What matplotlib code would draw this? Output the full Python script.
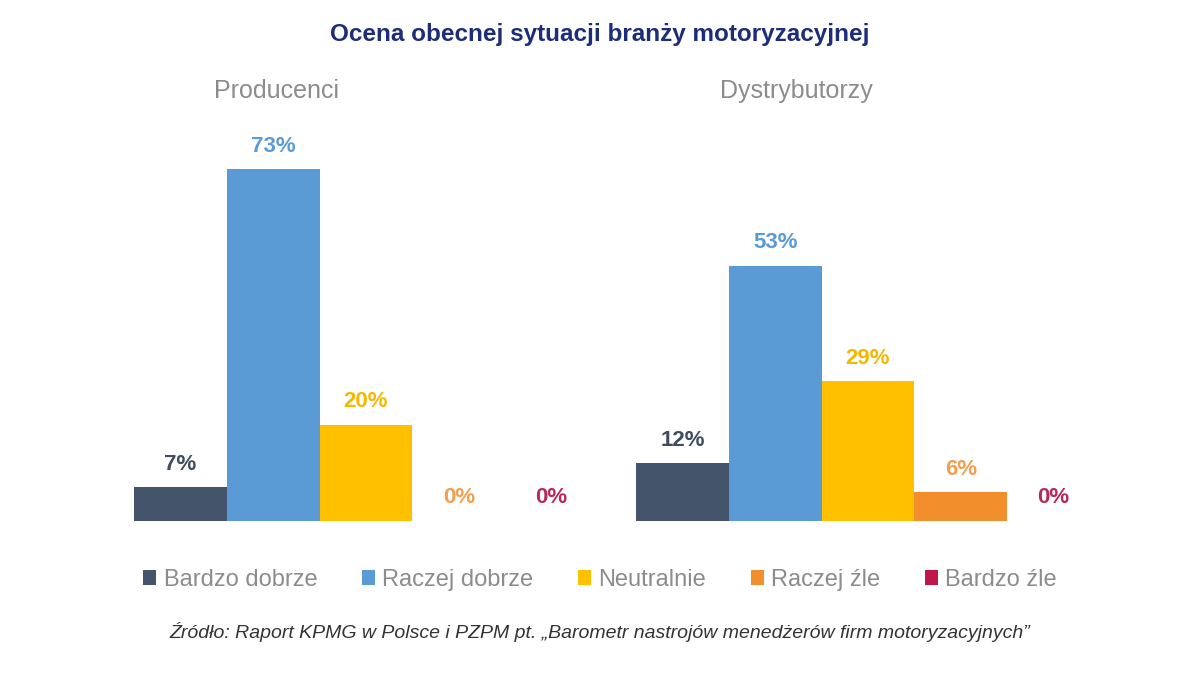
import matplotlib
matplotlib.use("Agg")
from matplotlib import pyplot as plt
from matplotlib.patches import Patch

plt.rcParams['font.family'] = ['Liberation Sans', 'DejaVu Sans']

groups = ['Producenci', 'Dystrybutorzy']
categories = ['Bardzo dobrze', 'Raczej dobrze', 'Neutralnie', 'Raczej źle', 'Bardzo źle']
producenci = [7, 73, 20, 0, 0]
dystrybutorzy = [12, 53, 29, 6, 0]

bar_colors = ['#44546a', '#5b9bd5', '#ffc000', '#f28e2b', '#c0174a']
label_colors = ['#3f4b5e', '#5b9bd5', '#f5b800', '#f0a050', '#b8285a']

title = 'Ocena obecnej sytuacji branży motoryzacyjnej'
source = 'Źródło: Raport KPMG w Polsce i PZPM pt. „Barometr nastrojów menedżerów firm motoryzacyjnych”'

fig = plt.figure(figsize=(12, 6.75), dpi=100)
ax = fig.add_axes([134 / 1200, (675 - 521) / 675, (1100 - 134) / 1200, (521 - 135.4) / 675])

# bar width in px ~92.8, second group starts 502 px after the first
group_offset = [0.0, 502 / 92.8]
for g, values in enumerate([producenci, dystrybutorzy]):
    xs = [group_offset[g] + i + 0.5 for i in range(len(values))]
    ax.bar(xs, values, width=1.0, color=bar_colors, linewidth=0)
    for x, v, c in zip(xs, values, label_colors):
        ax.text(x, v + 2.6, f'{v}%', ha='center', va='bottom', fontsize=16,
                fontweight='bold', color=c)

ax.set_xlim(0, (1100 - 134) / 92.8)
ax.set_ylim(0, 80)
ax.axis('off')

fig.text(0.5, 1 - 35 / 675, title, ha='center', va='center', fontsize=17.5,
         fontweight='bold', color='#1c2d7a')
fig.text(276 / 1200, 1 - 91 / 675, groups[0], ha='center', va='center',
         fontsize=18, color='#8c8c8c')
fig.text(796 / 1200, 1 - 91 / 675, groups[1], ha='center', va='center',
         fontsize=18, color='#8c8c8c')

handles = [Patch(facecolor=c, edgecolor='none') for c in bar_colors]
leg = fig.legend(handles, categories, loc='center', bbox_to_anchor=(0.5, 1 - 580 / 675),
                 ncol=5, frameon=False, fontsize=17, handlelength=0.55, handleheight=0.6,
                 handletextpad=0.3, columnspacing=1.9)
for t in leg.get_texts():
    t.set_color('#8c8c8c')

fig.text(0.5, 1 - 632 / 675, source, ha='center', va='center', fontsize=14,
         style='italic', color='#333333')

fig.savefig('out.png', dpi=100)
